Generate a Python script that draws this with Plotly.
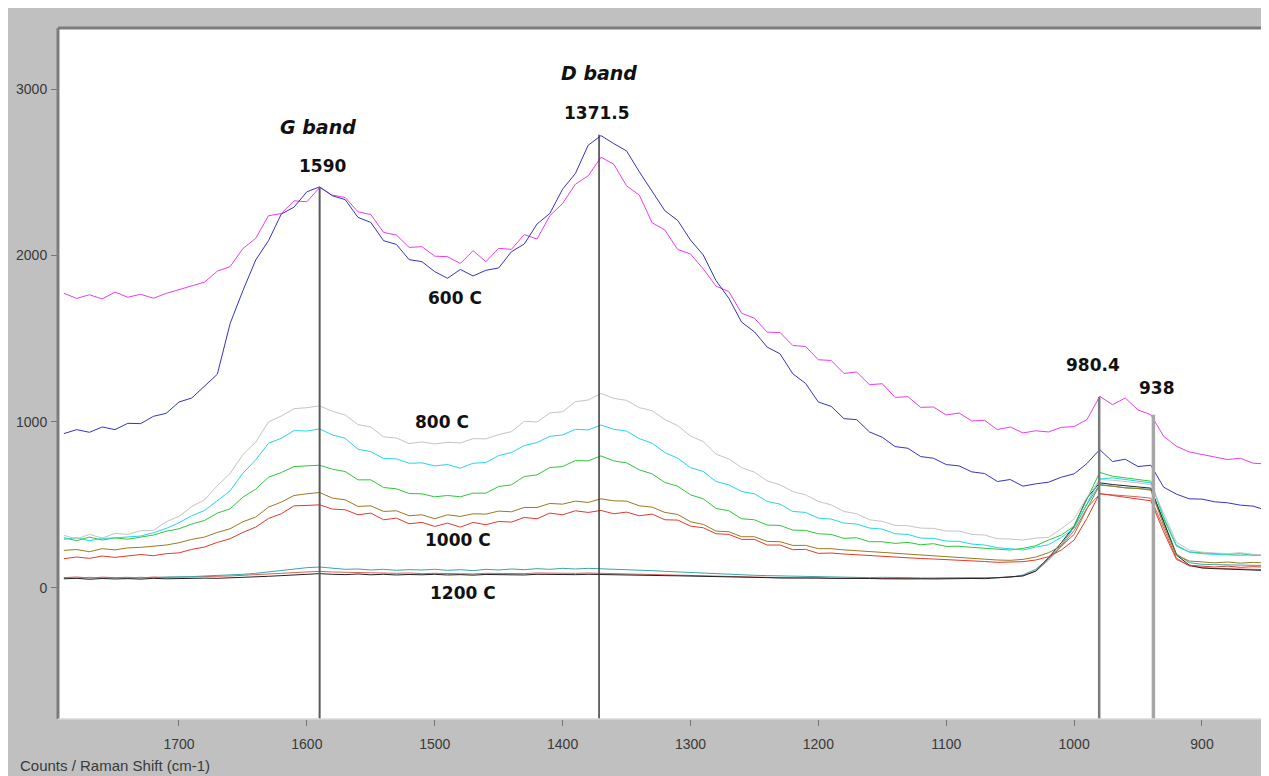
import plotly.graph_objects as go

# ---------------- data ----------------
raman_shift = [1790, 1780, 1770, 1760, 1750, 1740, 1730, 1720, 1710, 1700,
               1690, 1680, 1670, 1660, 1650, 1640, 1630, 1620, 1610, 1600,
               1590, 1580, 1570, 1560, 1550, 1540, 1530, 1520, 1510, 1500,
               1490, 1480, 1470, 1460, 1450, 1440, 1430, 1420, 1410, 1400,
               1390, 1380, 1370, 1360, 1350, 1340, 1330, 1320, 1310, 1300,
               1290, 1280, 1270, 1260, 1250, 1240, 1230, 1220, 1210, 1200,
               1190, 1180, 1170, 1160, 1150, 1140, 1130, 1120, 1110, 1100,
               1090, 1080, 1070, 1060, 1050, 1040, 1030, 1020, 1010, 1000,
               990, 980, 970, 960, 950, 940, 930, 920, 910, 900,
               890, 880, 870, 860, 850]

c600_magenta = [1772, 1741, 1763, 1738, 1779, 1748, 1766, 1742, 1771, 1795,
                1818, 1839, 1905, 1932, 2041, 2102, 2238, 2251, 2328, 2322,
                2408, 2362, 2348, 2262, 2245, 2138, 2122, 2048, 2052, 1995,
                1992, 1951, 2028, 1962, 2042, 2036, 2125, 2098, 2238, 2312,
                2428, 2478, 2590, 2548, 2418, 2362, 2196, 2152, 2035, 2008,
                1918, 1815, 1782, 1652, 1622, 1538, 1536, 1458, 1452, 1372,
                1368, 1290, 1298, 1222, 1228, 1146, 1150, 1086, 1088, 1040,
                1052, 1004, 1008, 952, 968, 932, 945, 938, 966, 970,
                1012, 1152, 1102, 1142, 1070, 1042, 912, 852, 818, 802,
                786, 772, 780, 750, 746]

c600_blue = [928, 952, 936, 968, 952, 990, 988, 1032, 1050, 1118,
             1142, 1212, 1285, 1590, 1788, 1972, 2088, 2248, 2290, 2382,
             2412, 2358, 2335, 2228, 2198, 2088, 2066, 1974, 1962, 1902,
             1862, 1915, 1876, 1910, 1924, 2022, 2068, 2188, 2252, 2398,
             2492, 2662, 2720, 2672, 2628, 2502, 2388, 2268, 2210, 2092,
             2002, 1848, 1742, 1598, 1540, 1448, 1408, 1288, 1230, 1118,
             1092, 1018, 1012, 938, 906, 850, 840, 790, 780, 742,
             734, 698, 688, 640, 652, 612, 626, 636, 666, 686,
             748, 832, 760, 774, 730, 738, 606, 564, 536, 534,
             518, 512, 498, 492, 468]

c800_gray = [316, 294, 322, 300, 328, 322, 344, 346, 398, 430,
             490, 530, 615, 688, 802, 876, 998, 1034, 1078, 1084,
             1095, 1062, 1040, 982, 968, 908, 902, 868, 878, 866,
             876, 872, 898, 896, 922, 940, 1002, 998, 1052, 1060,
             1120, 1130, 1170, 1140, 1128, 1084, 1066, 1012, 976, 914,
             880, 804, 776, 724, 696, 644, 620, 580, 560, 520,
             500, 460, 446, 410, 400, 376, 374, 360, 358, 342,
             342, 322, 318, 296, 294, 288, 300, 304, 356, 414,
             545, 652, 648, 642, 632, 622, 448, 275, 228, 215,
             210, 206, 212, 202, 200]

c800_cyan = [292, 302, 284, 298, 301, 306, 312, 332, 358, 392,
             434, 466, 526, 584, 690, 770, 870, 900, 946, 944,
             956, 920, 900, 834, 820, 778, 776, 750, 752, 734,
             742, 720, 750, 754, 796, 814, 856, 874, 912, 920,
             954, 950, 980, 954, 943, 898, 870, 814, 780, 724,
             700, 640, 620, 580, 566, 520, 504, 460, 454, 420,
             414, 390, 384, 360, 354, 326, 322, 300, 298, 282,
             280, 264, 258, 242, 236, 228, 246, 260, 304, 360,
             505, 655, 662, 652, 642, 632, 428, 258, 216, 206,
             202, 198, 196, 201, 194]

c800_green = [302, 284, 306, 288, 301, 293, 306, 318, 341, 356,
              384, 406, 450, 476, 546, 594, 666, 694, 730, 732,
              738, 714, 700, 650, 650, 604, 596, 568, 566, 548,
              556, 548, 570, 570, 610, 620, 670, 680, 724, 730,
              766, 764, 794, 764, 752, 710, 686, 634, 612, 560,
              536, 478, 464, 416, 410, 378, 376, 348, 346, 326,
              322, 298, 302, 278, 278, 268, 274, 260, 266, 250,
              251, 244, 238, 232, 228, 238, 254, 288, 318, 372,
              530, 695, 672, 662, 652, 642, 418, 252, 216, 210,
              205, 202, 206, 196, 200]

c1000_olive = [226, 231, 218, 236, 229, 241, 244, 252, 258, 272,
               292, 306, 334, 356, 398, 426, 486, 516, 556, 566,
               574, 540, 530, 490, 494, 460, 464, 434, 440, 416,
               440, 430, 446, 444, 462, 458, 484, 484, 508, 504,
               522, 514, 536, 524, 522, 494, 486, 454, 442, 398,
               382, 342, 338, 308, 308, 280, 278, 256, 256, 236,
               236, 229, 224, 216, 210, 207, 204, 199, 194, 188,
               182, 176, 171, 168, 166, 172, 186, 212, 252, 322,
               475, 618, 612, 602, 598, 588, 378, 198, 162, 155,
               151, 156, 149, 154, 150]

c1000_red = [176, 186, 178, 192, 184, 191, 201, 194, 206, 211,
             232, 246, 274, 296, 334, 366, 418, 446, 494, 496,
             500, 474, 470, 440, 450, 410, 420, 386, 394, 370,
             390, 366, 394, 380, 400, 396, 424, 416, 450, 440,
             464, 454, 466, 446, 456, 434, 444, 410, 408, 372,
             362, 326, 322, 292, 292, 258, 258, 230, 232, 208,
             210, 204, 199, 194, 188, 183, 180, 177, 174, 171,
             168, 164, 159, 154, 156, 158, 168, 188, 228, 288,
             418, 568, 556, 546, 534, 524, 338, 172, 136, 131,
             126, 131, 124, 128, 125]

c1200_teal = [62, 58, 64, 60, 63, 59, 64, 61, 66, 65,
              68, 72, 74, 78, 82, 88, 96, 104, 116, 122,
              126, 118, 112, 114, 108, 112, 106, 110, 108, 112,
              106, 110, 104, 112, 108, 114, 110, 116, 112, 118,
              114, 118, 116, 112, 110, 108, 104, 100, 96, 94,
              90, 86, 82, 80, 76, 74, 72, 70, 68, 66,
              66, 64, 63, 62, 64, 61, 62, 60, 61, 60,
              62, 61, 60, 62, 64, 78, 112, 176, 258, 365,
              502, 622, 612, 602, 598, 592, 402, 205, 152, 142,
              140, 138, 140, 136, 135]

c1200_red = [62, 66, 60, 65, 62, 64, 60, 66, 63, 64,
             65, 68, 70, 72, 76, 80, 86, 90, 94, 98,
             100, 96, 94, 92, 90, 92, 88, 90, 86, 88,
             86, 88, 84, 88, 86, 88, 86, 90, 88, 90,
             88, 90, 88, 86, 84, 82, 80, 78, 76, 74,
             72, 70, 68, 66, 64, 62, 62, 60, 60, 58,
             58, 57, 58, 56, 57, 56, 55, 56, 55, 56,
             57, 58, 60, 62, 66, 74, 100, 168, 250, 345,
             480, 565, 560, 555, 548, 540, 360, 180, 132, 122,
             118, 116, 114, 112, 110]

c1200_black = [55, 58, 52, 57, 54, 56, 53, 58, 55, 57,
               56, 59, 58, 60, 62, 66, 70, 74, 78, 82,
               86, 82, 80, 84, 79, 82, 78, 81, 79, 82,
               78, 80, 77, 81, 79, 80, 78, 82, 80, 82,
               80, 82, 80, 78, 79, 76, 76, 74, 73, 72,
               70, 68, 66, 65, 63, 62, 60, 61, 59, 60,
               58, 59, 56, 57, 55, 56, 54, 55, 54, 56,
               55, 57, 56, 60, 64, 72, 102, 182, 272, 372,
               540, 632, 622, 615, 610, 600, 398, 198, 138, 120,
               116, 113, 110, 108, 105]

# peak marker lines
peak_positions = [1590, 1371.5, 980.4, 938]
peak_tops = [2410, 2725, 1150, 1042]
peak_labels = ["1590", "1371.5", "980.4", "938"]
peak_label_x = [1588, 1373, 985, 935]
peak_label_y = [2537, 2856, 1341, 1203]

band_labels = ["G band", "D band"]
band_label_x = [1591, 1371.5]
band_label_y = [2772, 3097]

temp_labels = ["600 C", "800 C", "1000 C", "1200 C"]
temp_label_x = [1484, 1494, 1482, 1478]
temp_label_y = [1744, 998, 289, -30]

x_ticks = [1700, 1600, 1500, 1400, 1300, 1200, 1100, 1000, 900]
y_ticks = [0, 1000, 2000, 3000]

# ---------------- figure ----------------
series = [
    (c1200_red, "#d86060"),
    (c1200_teal, "#3aa6a6"),
    (c1200_black, "#222222"),
    (c1000_red, "#e23a2e"),
    (c1000_olive, "#9a7a1e"),
    (c800_green, "#2ec83a"),
    (c800_cyan, "#22d6e6"),
    (c800_gray, "#c4c4c4"),
    (c600_magenta, "#ec3cec"),
    (c600_blue, "#3434c4"),
]

fig = go.Figure()
for vals, col in series:
    fig.add_trace(go.Scatter(x=raman_shift, y=vals, mode="lines",
                             line=dict(color=col, width=1),
                             hoverinfo="skip", showlegend=False))

y_min, y_max = -788, 3367
x_left, x_right = 1794.6, 847.6

W, H = 1261, 768
ML, MR, MT, MB = 50, 0, 20, 57
plot_w = W - ML - MR
plot_h = H - MT - MB

line_styles = [("#5a5a5a", 2), ("#3a3a3a", 1.5), ("#7a7a7a", 2.5), ("#a6a6a6", 3.5)]
shapes = []
for pos, top, (col, w) in zip(peak_positions, peak_tops, line_styles):
    shapes.append(dict(type="line", xref="x", yref="y", x0=pos, x1=pos,
                       y0=y_min, y1=top, line=dict(color=col, width=w)))
# frame borders (left and top dark edges)
shapes.append(dict(type="line", xref="paper", yref="paper", x0=0, x1=0, y0=0, y1=1,
                   line=dict(color="#7c7c7c", width=3)))
shapes.append(dict(type="line", xref="paper", yref="paper", x0=0, x1=1, y0=1, y1=1,
                   line=dict(color="#7c7c7c", width=3)))
shapes.append(dict(type="line", xref="paper", yref="paper", x0=0, x1=1, y0=0, y1=0,
                   line=dict(color="#d8d8d8", width=1.5)))

annotations = []
num_font = dict(family="DejaVu Sans", size=17, color="#111111")
for t, x, y in zip(peak_labels, peak_label_x, peak_label_y):
    annotations.append(dict(x=x, y=y, xref="x", yref="y", text="<b>%s</b>" % t,
                            showarrow=False, font=num_font))
for t, x, y in zip(temp_labels, temp_label_x, temp_label_y):
    annotations.append(dict(x=x, y=y, xref="x", yref="y", text="<b>%s</b>" % t,
                            showarrow=False, font=num_font))
for t, x, y in zip(band_labels, band_label_x, band_label_y):
    annotations.append(dict(x=x, y=y, xref="x", yref="y", text="<b><i>%s</i></b>" % t,
                            showarrow=False,
                            font=dict(family="DejaVu Sans", size=19, color="#111111")))
annotations.append(dict(x=(10 - ML) / plot_w, y=-(757 - (H - MB)) / plot_h,
                        xref="paper", yref="paper", text="Counts / Raman Shift (cm-1)",
                        showarrow=False, xanchor="left", yanchor="middle",
                        font=dict(family="Liberation Sans", size=15, color="#3a3a3a")))

fig.update_layout(
    width=W, height=H,
    margin=dict(l=ML, r=MR, t=MT, b=MB, pad=0),
    paper_bgcolor="#c0c0c0",
    plot_bgcolor="#ffffff",
    shapes=shapes,
    annotations=annotations,
    xaxis=dict(range=[x_left, x_right], tickvals=x_ticks, ticks="outside", ticklen=6,
               tickcolor="#777777", showgrid=False, zeroline=False, showline=False,
               ticklabelstandoff=6,
               tickfont=dict(family="Liberation Sans", size=14, color="#3a3a3a")),
    yaxis=dict(range=[y_min, y_max], tickvals=y_ticks, ticks="outside", ticklen=6,
               tickcolor="#777777", showgrid=False, zeroline=False, showline=False,
               ticklabelstandoff=1,
               tickfont=dict(family="Liberation Sans", size=14, color="#3a3a3a")),
    hovermode=False,
)

fig.write_html("out.html")
